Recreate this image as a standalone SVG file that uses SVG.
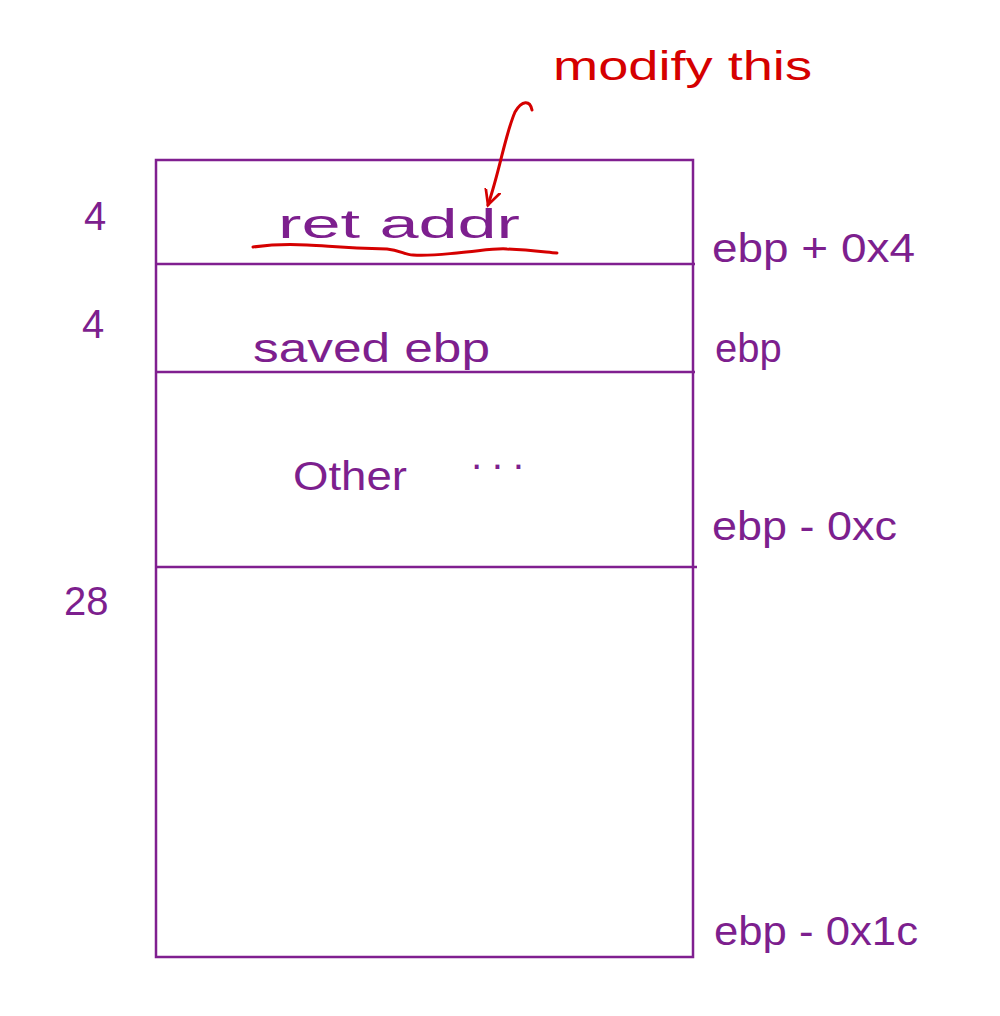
<svg xmlns="http://www.w3.org/2000/svg" width="1000" height="1016" viewBox="0 0 1000 1016">
<style>
.p{fill:#7d1f8e;font-family:"Liberation Sans",Arial,sans-serif;font-size:40px}
.r{fill:#d50000;font-family:"Liberation Sans",Arial,sans-serif;font-size:40px}
.box{fill:none;stroke:#801f90;stroke-width:2.5}
.red{fill:none;stroke:#d50000;stroke-width:3;stroke-linecap:round;stroke-linejoin:round}
</style>
<defs>
<marker id="ah" viewBox="0 0 12 12" refX="10" refY="6" markerWidth="18" markerHeight="18" orient="auto" markerUnits="userSpaceOnUse">
<path d="M0,1 L10,6 L0,11" fill="none" stroke="#d50000" stroke-width="1.8" stroke-linecap="round"/>
</marker>
</defs>
<rect width="1000" height="1016" fill="#ffffff"/>
<g id="stack">
<rect class="box" x="156" y="160" width="537" height="797"/>
<line class="box" x1="156" y1="264" x2="695" y2="264"/>
<line class="box" x1="156" y1="372" x2="695" y2="372"/>
<line class="box" x1="156" y1="567" x2="697" y2="567"/>
</g>
<g id="ret-addr">
<text class="p" x="278" y="238" textLength="242" lengthAdjust="spacingAndGlyphs">ret  addr</text>
</g>
<g id="saved-ebp">
<text class="p" x="253" y="362" textLength="237" lengthAdjust="spacingAndGlyphs">saved  ebp</text>
</g>
<g id="other">
<text class="p" x="293" y="490" textLength="114" lengthAdjust="spacingAndGlyphs">Other</text>
<text class="p" x="470" y="478" textLength="55" lengthAdjust="spacing">···</text>
</g>
<g id="sizes">
<text class="p" x="84" y="230">4</text>
<text class="p" x="82" y="338">4</text>
<text class="p" x="64" y="615" font-size="46">28</text>
</g>
<g id="offsets">
<text class="p" x="712" y="262" textLength="203" lengthAdjust="spacingAndGlyphs">ebp + 0x4</text>
<text class="p" x="715" y="362">ebp</text>
<text class="p" x="712" y="540" textLength="185" lengthAdjust="spacingAndGlyphs">ebp - 0xc</text>
<text class="p" x="714" y="945" textLength="204" lengthAdjust="spacingAndGlyphs">ebp - 0x1c</text>
</g>
<g id="note">
<text class="r" x="553" y="80" textLength="259" lengthAdjust="spacingAndGlyphs">modify  this</text>
</g>
<g id="connectors">
<path class="red" d="M532,110 C530,100 522,100 515,112 C505,135 500,170 488,205" marker-end="url(#ah)"/>
<path class="red" d="M253,247 C275,244 290,244 307,245 C330,246 340,248 387,249 C400,250 405,255 413,255 C430,256 445,254 457,253 C480,251 495,248 507,249 C530,250 545,252 557,253"/>
</g>
</svg>
